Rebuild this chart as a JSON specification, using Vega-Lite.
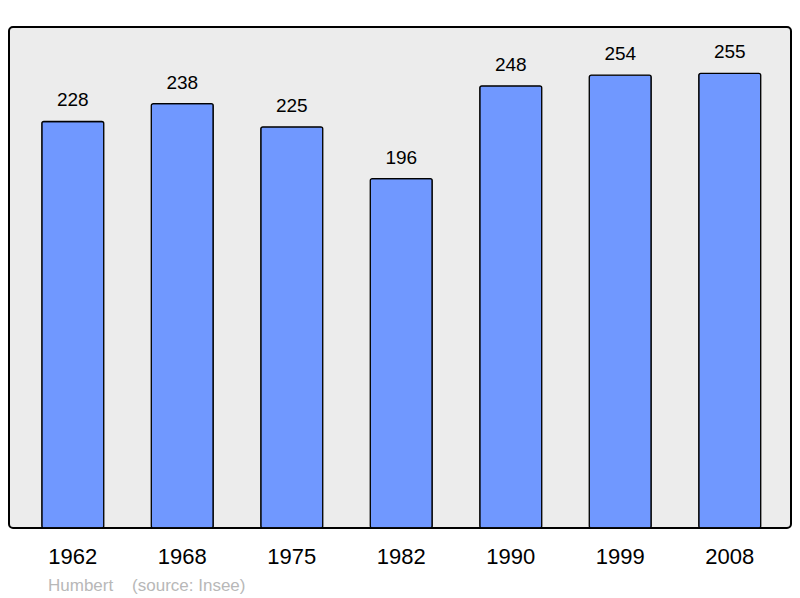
{
  "$schema": "https://vega.github.io/schema/vega-lite/v6.json",
  "width": 782,
  "height": 501,
  "autosize": {"type": "none"},
  "padding": {"left": 9, "top": 27, "right": 9, "bottom": 70},
  "background": "white",
  "config": {
    "view": {"stroke": "black", "strokeWidth": 2, "fill": "#ececec", "cornerRadius": 4},
    "font": "Liberation Sans"
  },
  "title": {
    "text": "Humbert\u00a0\u00a0\u00a0 (source: Insee)",
    "orient": "bottom",
    "anchor": "start",
    "frame": "group",
    "dx": 39,
    "offset": 11,
    "fontSize": 17,
    "fontWeight": "normal",
    "color": "#b8b8b8",
    "font": "Liberation Sans"
  },
  "data": {
    "values": [
      {"year": "1962", "pop": 228},
      {"year": "1968", "pop": 238},
      {"year": "1975", "pop": 225},
      {"year": "1982", "pop": 196},
      {"year": "1990", "pop": 248},
      {"year": "1999", "pop": 254},
      {"year": "2008", "pop": 255}
    ]
  },
  "encoding": {
    "x": {
      "field": "year", "type": "ordinal",
      "scale": {"paddingInner": 0.434, "paddingOuter": 0.288, "align": 0.52},
      "axis": {"title": null, "domain": false, "ticks": false, "labelAngle": 0, "labelFontSize": 22, "labelColor": "black", "labelPadding": 18, "labelFont": "Liberation Sans"}
    },
    "y": {
      "field": "pop", "type": "quantitative",
      "scale": {"domain": [0, 281], "nice": false},
      "axis": null
    }
  },
  "layer": [
    {"mark": {"type": "bar", "fill": "#7098ff", "stroke": "black", "strokeWidth": 1.3, "cornerRadius": 2}},
    {"mark": {"type": "text", "baseline": "alphabetic", "dy": -15, "fontSize": 19, "color": "black", "font": "Liberation Sans"},
     "encoding": {"text": {"field": "pop", "type": "quantitative"}}}
  ]
}
